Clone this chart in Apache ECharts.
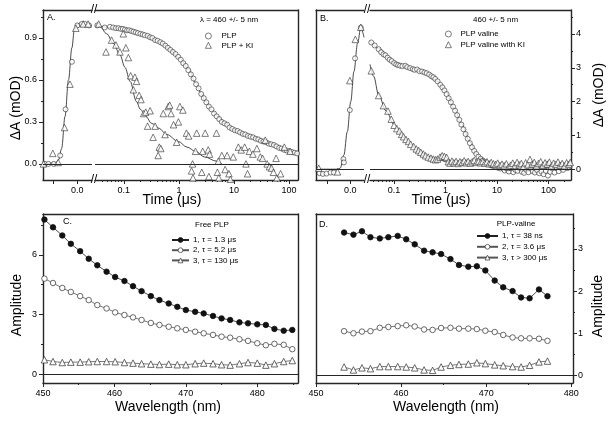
<!DOCTYPE html>
<html>
<head>
<meta charset="utf-8">
<title>Transient absorption panels</title>
<script src="https://cdn.jsdelivr.net/npm/echarts@6/dist/echarts.min.js"></script>
<style>
  html, body { margin: 0; padding: 0; background: #fff; }
  #chart { width: 608px; height: 422px; }
</style>
</head>
<body>
<div id="chart"></div>
<script>
// ---- panel A : PLP, 460 nm (time in us, dA in mOD) ----
const plpEarlyA = [[-0.066,0.0],[-0.059,0.0],[-0.048,0.0],[-0.035,0.06],[-0.024,0.39],[-0.011,0.73],[0.0,0.99],[0.009,1.0],[0.016,1.0],[0.024,0.99]];
const kiEarlyA = [[-0.069,0.0],[-0.05,0.075],[-0.039,0.01],[-0.026,0.26],[-0.015,0.57],[-0.003,0.97],[0.012,1.0],[0.022,1.0]];
const fitEarlyA = [[-0.07,0],[-0.045,0.005],[-0.038,0.03],[-0.032,0.11],[-0.025,0.34],[-0.018,0.6],[-0.011,0.83],[-0.006,0.96],[0,1.0],[0.03,0.99]];
const plpA = [[0.033,0.99],[0.045,0.975],[0.056,0.98],[0.064,0.975],[0.072,0.97],[0.08,0.97],[0.088,0.965],[0.096,0.965],[0.105,0.96],[0.115,0.955],[0.125,0.955],[0.137,0.95],[0.15,0.945],[0.165,0.94],[0.18,0.935],[0.2,0.93],[0.22,0.925],[0.24,0.92],[0.27,0.915],[0.3,0.905],[0.33,0.9],[0.37,0.885],[0.41,0.88],[0.46,0.87],[0.51,0.86],[0.57,0.845],[0.63,0.83],[0.7,0.815],[0.78,0.8],[0.87,0.785],[0.97,0.765],[1.08,0.745],[1.2,0.72],[1.33,0.7],[1.48,0.67],[1.65,0.64],[1.84,0.61],[2.05,0.57],[2.28,0.54],[2.54,0.5],[2.83,0.47],[3.15,0.44],[3.5,0.41],[3.9,0.39],[4.35,0.36],[4.85,0.34],[5.4,0.32],[6.0,0.3],[6.7,0.29],[7.5,0.28],[8.3,0.26],[9.3,0.25],[10.4,0.24],[11.6,0.235],[12.9,0.225],[14.4,0.215],[16.0,0.21],[17.9,0.2],[19.9,0.195],[22.2,0.19],[24.8,0.18],[27.6,0.175],[30.8,0.165],[34.3,0.16],[38.2,0.155],[42.6,0.145],[47.5,0.14],[53,0.135],[59,0.125],[66,0.115],[73,0.11],[82,0.1],[91,0.095],[102,0.09],[113,0.085],[126,0.08],[140,0.075]];
const kiA = [[0.035,1.0],[0.0475,0.8],[0.06,0.885],[0.072,0.85],[0.085,0.8],[0.098,0.93],[0.109,0.83],[0.121,0.76],[0.133,0.63],[0.149,0.53],[0.159,0.62],[0.17,0.59],[0.19,0.49],[0.205,0.46],[0.23,0.36],[0.25,0.37],[0.27,0.27],[0.3,0.38],[0.34,0.19],[0.37,0.27],[0.42,0.06],[0.44,0.12],[0.47,0.11],[0.52,0.36],[0.56,0.21],[0.64,0.41],[0.68,0.42],[0.72,0.36],[0.8,0.28],[0.91,0.155],[0.98,0.3],[1.04,0.41],[1.18,0.385],[1.37,0.22],[1.5,0.2],[1.7,-0.05],[1.77,0.0],[1.8,-0.1],[2.0,0.09],[2.1,0.22],[2.6,-0.06],[2.7,0.09],[3.0,0.22],[3.4,0.1],[3.5,-0.09],[3.6,0.07],[4.8,0.22],[5.0,-0.06],[5.2,0.02],[5.3,-0.1],[6.0,0.06],[6.9,-0.04],[7.5,0.06],[8.1,-0.07],[8.6,-0.11],[9.7,0.05],[12,0.12],[13.5,0.1],[15.6,0.12],[16.5,0.0],[17.6,-0.07],[19,0.09],[22,0.07],[26,0.11],[30,0.05],[33,0.04],[37,0.17],[40,0.0],[44,-0.02],[48,-0.03],[52,-0.06],[58,0.04],[60,-0.1],[70,-0.07],[82,0.12],[104,0.09]];
const fitPlpA = [[0.03,0.99],[0.1,0.965],[0.2,0.93],[0.3,0.905],[0.5,0.86],[0.7,0.815],[1,0.76],[1.5,0.68],[2,0.58],[2.5,0.51],[3,0.45],[4,0.385],[5,0.34],[7,0.29],[10,0.245],[15,0.215],[20,0.195],[30,0.17],[50,0.14],[80,0.1],[145,0.07]];
const fitKiA = [[0.03,1.0],[0.037,0.98],[0.049,0.93],[0.065,0.86],[0.085,0.78],[0.105,0.69],[0.13,0.59],[0.17,0.445],[0.2,0.39],[0.25,0.34],[0.32,0.29],[0.43,0.255],[0.6,0.21],[0.98,0.16],[1.4,0.12],[2,0.09],[2.9,0.05],[4.8,0.02],[6,0.0]];

// ---- panel B : PLP valine, 460 nm ----
const plpvEarlyB = [[-0.067,-0.12],[-0.06,-0.14],[-0.052,-0.13],[-0.043,-0.1],[-0.036,-0.1],[-0.015,0.3],[-0.014,0.2],[-0.001,1.75],[0.0105,3.28],[0.023,4.19]];
const kiEarlyB = [[-0.069,0.03],[-0.028,-0.08],[-0.001,2.62],[0.011,3.84],[0.023,4.2]];
const fitEarlyB = [[-0.075,0],[-0.03,0],[-0.022,0.03],[-0.014,0.42],[-0.0065,1.11],[0.001,2.0],[0.008,2.89],[0.016,3.73],[0.023,4.19],[0.03,3.9]];
const plpvB = [[0.036,3.75],[0.042,3.66],[0.05,3.55],[0.056,3.46],[0.062,3.4],[0.068,3.37],[0.075,3.3],[0.082,3.24],[0.09,3.2],[0.1,3.14],[0.11,3.1],[0.12,3.08],[0.131,3.06],[0.145,3.05],[0.165,3.06],[0.18,3.02],[0.205,2.99],[0.23,2.96],[0.25,2.94],[0.28,2.95],[0.31,2.9],[0.35,2.89],[0.39,2.86],[0.43,2.84],[0.48,2.8],[0.53,2.75],[0.58,2.72],[0.63,2.67],[0.7,2.6],[0.79,2.5],[0.87,2.42],[0.95,2.33],[1.05,2.22],[1.15,2.1],[1.27,1.98],[1.4,1.85],[1.53,1.73],[1.68,1.6],[1.85,1.46],[2.03,1.32],[2.23,1.18],[2.45,1.04],[2.7,0.9],[2.97,0.77],[3.27,0.65],[3.6,0.54],[3.95,0.45],[4.35,0.37],[4.8,0.31],[5.3,0.26],[5.8,0.21],[6.4,0.17],[7.1,0.14],[7.8,0.11],[8.6,0.09],[9.5,0.06],[10.5,0.04],[11.6,0.02],[12.8,0.03],[14.1,-0.04],[15.5,0.01],[17,-0.07],[18.8,0.02],[20.7,-0.09],[22.8,-0.02],[25.1,-0.05],[27.7,0.04],[30.5,-0.08],[33.6,-0.11],[37,-0.02],[40.8,-0.09],[45,0.02],[49.6,-0.06],[54.6,-0.1],[60.2,-0.03],[66.3,-0.12],[73,-0.07],[80.5,-0.15],[88.7,-0.05],[97.7,-0.19],[107.7,-0.08],[118.7,0.02],[130.7,-0.1],[144,0.03],[158.7,-0.06],[174.8,0.04],[192.6,-0.02],[212.2,0.07],[233.8,0.03],[257.6,0.12]];
const kiB = [[0.036,2.91],[0.05,2.18],[0.062,1.88],[0.076,1.72],[0.088,1.48],[0.1,1.3],[0.113,1.2],[0.127,1.13],[0.14,1.03],[0.153,0.96],[0.17,0.88],[0.19,0.82],[0.21,0.74],[0.24,0.67],[0.27,0.6],[0.3,0.55],[0.33,0.5],[0.37,0.45],[0.41,0.4],[0.46,0.36],[0.52,0.33],[0.58,0.3],[0.64,0.28],[0.7,0.3],[0.78,0.36],[0.86,0.4],[0.95,0.38],[1.05,0.35],[1.13,0.22],[1.22,0.18],[1.33,0.24],[1.45,0.19],[1.6,0.23],[1.75,0.17],[1.9,0.22],[2.1,0.2],[2.3,0.25],[2.5,0.19],[2.75,0.23],[3.0,0.18],[3.3,0.22],[3.6,0.26],[4.0,0.2],[4.4,0.24],[4.8,0.19],[5.3,0.23],[5.8,0.18],[6.4,0.22],[7.0,0.16],[7.7,0.2],[8.5,0.16],[9.4,0.14],[10.3,0.18],[11.4,0.11],[12.5,0.15],[13.8,0.1],[15.2,0.16],[16.7,0.06],[18.4,0.12],[20.2,0.18],[22.3,0.11],[24.5,0.2],[27,0.13],[29.7,0.17],[32.7,0.08],[36,0.19],[39.7,0.13],[43.7,0.29],[48.1,0.15],[53,0.2],[58.3,0.1],[64.2,0.17],[70.7,0.22],[77.9,0.12],[85.8,0.19],[94.5,0.15],[104,0.21],[114.5,0.1],[126,0.18],[139,0.14],[153,0.21],[168,0.12],[185,0.17],[204,0.1],[225,0.19],[248,0.14],[265,0.2]];
const fitPlpvB = [[0.034,3.8],[0.05,3.57],[0.1,3.17],[0.2,2.98],[0.4,2.85],[0.7,2.6],[1,2.3],[1.5,1.78],[2,1.37],[3,0.8],[4,0.45],[6,0.2],[10,0.05],[20,0.0],[270,0.0]];
const fitKiB = [[0.034,3.1],[0.04,2.75],[0.05,2.2],[0.07,1.72],[0.1,1.32],[0.15,0.95],[0.2,0.75],[0.3,0.52],[0.5,0.36],[0.8,0.27],[1.0,0.22],[2,0.17],[5,0.14],[10,0.11],[20,0.08],[50,0.06],[270,0.05]];

// ---- panel C : free PLP amplitudes ----
const wavelengthC = [450.2,451.4,452.7,453.9,455.2,456.4,457.6,458.9,460.1,461.4,462.6,463.8,465.1,466.3,467.6,468.8,470.0,471.3,472.5,473.8,475.0,476.2,477.5,478.7,480.0,481.2,482.4,483.7,484.9];
const freeAmp1 = [7.77,7.38,6.97,6.55,6.18,5.8,5.47,5.15,4.88,4.68,4.42,4.17,3.92,3.72,3.55,3.38,3.22,3.13,3.05,2.92,2.8,2.72,2.6,2.55,2.5,2.47,2.27,2.18,2.22];
const freeAmp2 = [4.8,4.58,4.33,4.13,3.92,3.72,3.47,3.3,3.1,2.97,2.85,2.72,2.57,2.47,2.38,2.3,2.22,2.13,2.05,1.97,1.88,1.83,1.75,1.67,1.55,1.45,1.52,1.47,1.25];
const freeAmp3 = [0.72,0.63,0.58,0.6,0.6,0.62,0.63,0.63,0.62,0.58,0.55,0.52,0.5,0.48,0.5,0.47,0.47,0.52,0.55,0.52,0.47,0.45,0.52,0.58,0.55,0.45,0.52,0.63,0.68];

// ---- panel D : PLP-valine amplitudes ----
const wavelengthD = [453.3,454.4,455.4,456.4,457.5,458.5,459.6,460.6,461.6,462.7,463.7,464.7,465.8,466.8,467.9,468.9,469.9,471.0,472.0,473.1,474.1,475.1,476.2,477.2];
const valAmp1 = [3.39,3.34,3.42,3.28,3.25,3.28,3.31,3.23,3.11,2.96,2.92,2.88,2.76,2.62,2.58,2.59,2.49,2.25,2.09,2.0,1.85,1.83,2.04,1.88];
const valAmp2 = [1.05,1.0,1.04,1.05,1.13,1.15,1.17,1.19,1.16,1.09,1.08,1.125,1.13,1.11,1.11,1.1,1.06,1.03,0.96,0.9,0.88,0.88,0.87,0.82];
const valAmp3 = [0.2,0.13,0.18,0.16,0.21,0.21,0.21,0.2,0.18,0.13,0.12,0.2,0.24,0.26,0.27,0.3,0.28,0.25,0.23,0.21,0.2,0.24,0.32,0.34];

// ---- ticks ----
const logLabels = [0.1, 1, 10, 100];
const logMinorA = [0.04,0.05,0.06,0.07,0.08,0.09,0.2,0.3,0.4,0.5,0.6,0.7,0.8,0.9,2,3,4,5,6,7,8,9,20,30,40,50,60,70,80,90];
const logMinorB = [0.04,0.05,0.06,0.07,0.08,0.09,0.2,0.3,0.4,0.5,0.6,0.7,0.8,0.9,2,3,4,5,6,7,8,9,20,30,40,50,60,70,80,90,200];
const linTicks = [-0.05, 0];
const yMajorA = [0, 0.3, 0.6, 0.9];
const yMinorA = [0.15, 0.45, 0.75, 1.05];
const yMajorB = [0, 1, 2, 3, 4];
const yMinorB = [0.5, 1.5, 2.5, 3.5, 4.5];
const wlMajor = [450, 460, 470, 480];
const wlMinorC = [455, 465, 475, 485];
const wlMinorD = [455, 465, 475];
const yMajorC = [0, 3, 6];
const yMinorC = [1.5, 4.5, 7.5];
const yMajorD = [0, 1, 2, 3];
const yMinorD = [0.5, 1.5, 2.5, 3.5];

const FONT = '"Liberation Sans", Arial, sans-serif';
const INK = '#262626';

function zip(xs, ys) {
  return xs.map((x, i) => [x, ys[i]]);
}

function axis(grid, pos, type, range, opt) {
  opt = opt || {};
  const a = {
    gridIndex: grid,
    position: pos,
    type: type,
    min: range[0],
    max: range[1],
    axisLine: { show: !opt.noLine, onZero: false, lineStyle: { color: INK, width: 1.4 } },
    axisTick: { show: false },
    axisLabel: { show: false },
    splitLine: { show: false },
    axisPointer: { show: false }
  };
  if (type === 'log') a.logBase = 10;
  if (opt.ticks) {
    a.axisTick = { show: true, customValues: opt.ticks, length: opt.len || 4, lineStyle: { color: INK, width: 1 } };
  }
  if (opt.labels) {
    a.axisLabel = {
      show: true, customValues: opt.labels, formatter: opt.fmt || (v => String(v)),
      fontSize: 9, color: '#000', fontFamily: FONT, margin: opt.margin || 6
    };
  }
  return a;
}

const fixed1 = v => v.toFixed(1);
const rangeA = [-0.115, 1.1];
const rangeB = [-0.32, 4.71];
const rangeC = [-0.45, 8.05];
const rangeD = [-0.18, 3.83];

const xAxes = [
  axis(0, 'bottom', 'value', [-0.07, 0.03], { ticks: linTicks, labels: [0], fmt: fixed1 }),
  axis(0, 'top', 'value', [-0.07, 0.03]),
  axis(1, 'bottom', 'log', [0.03, 145], { ticks: logLabels, labels: logLabels }),
  axis(1, 'bottom', 'log', [0.03, 145], { ticks: logMinorA, noLine: true, len: 2 }),
  axis(1, 'top', 'log', [0.03, 145]),
  axis(2, 'bottom', 'value', [-0.075, 0.03], { ticks: linTicks, labels: [0], fmt: fixed1 }),
  axis(2, 'top', 'value', [-0.075, 0.03]),
  axis(3, 'bottom', 'log', [0.034, 274], { ticks: logLabels, labels: logLabels }),
  axis(3, 'bottom', 'log', [0.034, 274], { ticks: logMinorB, noLine: true, len: 2 }),
  axis(3, 'top', 'log', [0.034, 274]),
  axis(4, 'bottom', 'value', [450, 485.7], { ticks: wlMajor, labels: wlMajor }),
  axis(4, 'bottom', 'value', [450, 485.7], { ticks: wlMinorC, noLine: true, len: 2 }),
  axis(4, 'top', 'value', [450, 485.7]),
  axis(5, 'bottom', 'value', [450, 480.2], { ticks: wlMajor, labels: wlMajor }),
  axis(5, 'bottom', 'value', [450, 480.2], { ticks: wlMinorD, noLine: true, len: 2 }),
  axis(5, 'top', 'value', [450, 480.2])
];

const yAxes = [
  axis(0, 'left', 'value', rangeA, { ticks: yMajorA, labels: yMajorA, fmt: fixed1 }),
  axis(0, 'left', 'value', rangeA, { ticks: yMinorA, noLine: true, len: 2 }),
  axis(1, 'right', 'value', rangeA),
  axis(2, 'left', 'value', rangeB),
  axis(3, 'right', 'value', rangeB, { ticks: yMajorB, labels: yMajorB, margin: 5 }),
  axis(3, 'right', 'value', rangeB, { ticks: yMinorB, noLine: true, len: 2 }),
  axis(4, 'left', 'value', rangeC, { ticks: yMajorC, labels: yMajorC }),
  axis(4, 'left', 'value', rangeC, { ticks: yMinorC, noLine: true, len: 2 }),
  axis(4, 'right', 'value', rangeC),
  axis(5, 'left', 'value', rangeD),
  axis(5, 'right', 'value', rangeD, { ticks: yMajorD, labels: yMajorD, margin: 5 }),
  axis(5, 'right', 'value', rangeD, { ticks: yMinorD, noLine: true, len: 2 })
];

const zeroLine = {
  silent: true,
  symbol: ['none', 'none'],
  label: { show: false },
  lineStyle: { color: INK, width: 1.2, type: 'solid' },
  data: [{ yAxis: 0 }]
};

function fit(name, xi, yi, data, withZero) {
  const s = {
    type: 'line', name: name, xAxisIndex: xi, yAxisIndex: yi, data: data,
    showSymbol: false, symbol: 'none', smooth: 0.35, smoothMonotone: 'x', z: 2,
    lineStyle: { color: '#1a1a1a', width: 0.8 }
  };
  if (withZero) s.markLine = zeroLine;
  return s;
}

function dots(name, xi, yi, data, symbol) {
  return {
    type: 'scatter', name: name, xAxisIndex: xi, yAxisIndex: yi, data: data, z: 3,
    symbol: symbol, symbolSize: symbol === 'triangle' ? 6.5 : 5,
    itemStyle: { color: '#fff', borderColor: '#333', borderWidth: 0.8 }
  };
}

function spectrum(name, xi, yi, xs, ys, symbol, filled, withZero) {
  const s = {
    type: 'line', name: name, xAxisIndex: xi, yAxisIndex: yi, data: zip(xs, ys),
    symbol: symbol, symbolSize: symbol === 'triangle' ? 6.5 : 5.5, showAllSymbol: true,
    lineStyle: { color: filled ? '#222' : '#555', width: 0.8 },
    itemStyle: filled ? { color: '#111', borderColor: '#111', borderWidth: 0.8 }
                      : { color: '#fff', borderColor: '#444', borderWidth: 0.8 }
  };
  if (withZero) s.markLine = zeroLine;
  return s;
}

const series = [
  // A, linear part
  fit('fitA0', 0, 0, fitEarlyA, true),
  dots('PLP', 0, 0, plpEarlyA, 'circle'),
  dots('PLP + KI', 0, 0, kiEarlyA, 'triangle'),
  // A, log part
  fit('fitA1', 2, 2, fitPlpA, true),
  fit('fitA2', 2, 2, fitKiA, false),
  dots('PLP', 2, 2, plpA, 'circle'),
  dots('PLP + KI', 2, 2, kiA, 'triangle'),
  // B, linear part
  fit('fitB0', 5, 3, fitEarlyB, true),
  dots('PLP valine', 5, 3, plpvEarlyB, 'circle'),
  dots('PLP valine with KI', 5, 3, kiEarlyB, 'triangle'),
  // B, log part
  fit('fitB1', 7, 4, fitPlpvB, true),
  fit('fitB2', 7, 4, fitKiB, false),
  dots('PLP valine', 7, 4, plpvB, 'circle'),
  dots('PLP valine with KI', 7, 4, kiB, 'triangle'),
  // C
  spectrum('1, τ = 1.3 μs', 10, 6, wavelengthC, freeAmp1, 'circle', true, true),
  spectrum('2, τ = 5.2 μs', 10, 6, wavelengthC, freeAmp2, 'circle', false, false),
  spectrum('3, τ = 130 μs', 10, 6, wavelengthC, freeAmp3, 'triangle', false, false),
  // D
  spectrum('1, τ = 38 ns', 13, 10, wavelengthD, valAmp1, 'circle', true, true),
  spectrum('2, τ = 3.6 μs', 13, 10, wavelengthD, valAmp2, 'circle', false, false),
  spectrum('3, τ > 300 μs', 13, 10, wavelengthD, valAmp3, 'triangle', false, false)
];

function legend(names, left, top, itemWidth, gap, textPad) {
  return {
    orient: 'vertical', left: left, top: top, padding: 0,
    itemWidth: itemWidth, itemHeight: 6, itemGap: gap,
    selectedMode: false, symbolKeepAspect: true,
    data: names,
    itemStyle: { borderWidth: 0.8 },
    textStyle: { fontSize: 8, color: '#000', fontFamily: FONT, padding: [0, 0, 0, textPad] }
  };
}

function label(text, x, y, size, opt) {
  opt = opt || {};
  return {
    type: 'text', x: x, y: y, rotation: opt.rot || 0, silent: true,
    style: {
      text: text, fill: '#000', font: size + 'px ' + FONT,
      align: opt.align || 'center', verticalAlign: 'middle',
      textAlign: opt.align || 'center', textVerticalAlign: 'middle'
    }
  };
}

const graphics = [
  label('A.', 47, 18, 9, { align: 'left' }),
  label('B.', 320, 19, 9, { align: 'left' }),
  label('C.', 63, 222, 9, { align: 'left' }),
  label('D.', 319, 225, 9, { align: 'left' }),
  label('λ = 460 +/- 5 nm', 200, 20, 8, { align: 'left' }),
  label('460 +/- 5 nm', 473, 20, 8, { align: 'left' }),
  label('Free PLP', 212, 225, 8),
  label('PLP-valine', 516, 224, 8),
  label('//', 94, 10, 12),
  label('//', 94, 180, 12),
  label('//', 367, 10, 12),
  label('//', 367, 180, 12),
  label('ΔA (mOD)', 16, 108, 14, { rot: Math.PI / 2 }),
  label('Time (μs)', 172, 200, 14),
  label('ΔA (mOD)', 599, 95, 14, { rot: Math.PI / 2 }),
  label('Time (μs)', 441, 200, 14),
  label('Amplitude', 17, 305, 14, { rot: Math.PI / 2 }),
  label('Wavelength (nm)', 168, 407, 14),
  label('Amplitude', 598, 306, 14, { rot: Math.PI / 2 }),
  label('Wavelength (nm)', 446, 407, 14)
];

const option = {
  animation: false,
  backgroundColor: '#fff',
  textStyle: { fontFamily: FONT },
  grid: [
    { left: 43, top: 10, width: 49, height: 170, outerBoundsMode: 'none' },
    { left: 95, top: 10, width: 203, height: 170, outerBoundsMode: 'none' },
    { left: 316, top: 10, width: 48, height: 170, outerBoundsMode: 'none' },
    { left: 370, top: 10, width: 201, height: 170, outerBoundsMode: 'none' },
    { left: 43, top: 214, width: 255, height: 169, outerBoundsMode: 'none' },
    { left: 316, top: 214, width: 257, height: 169, outerBoundsMode: 'none' }
  ],
  xAxis: xAxes,
  yAxis: yAxes,
  legend: [
    legend(['PLP', 'PLP + KI'], 205, 32, 6, 1.3, 5),
    legend(['PLP valine', 'PLP valine with KI'], 445, 30, 6, 2.7, 4),
    legend(['1, τ = 1.3 μs', '2, τ = 5.2 μs', '3, τ = 130 μs'], 171, 236, 17, 2.2, -1),
    legend(['1, τ = 38 ns', '2, τ = 3.6 μs', '3, τ > 300 μs'], 476, 232, 21, 2.8, -1)
  ],
  graphic: graphics,
  series: series
};

const chart = echarts.init(document.getElementById('chart'), null, { renderer: 'canvas' });
chart.setOption(option);
</script>
</body>
</html>
